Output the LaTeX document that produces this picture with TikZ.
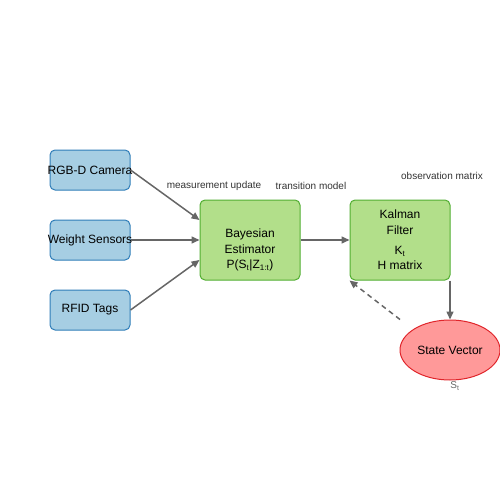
\documentclass[tikz,border=0pt]{standalone}
\usepackage{fontspec}
\setmainfont{Liberation Sans}
\usepackage{tikz}
\usetikzlibrary{arrows.meta,shapes.geometric}
\definecolor{sensorfill}{HTML}{A6CEE3}
\definecolor{sensorline}{HTML}{2F7DB8}
\definecolor{stagefill}{HTML}{B2DF8A}
\definecolor{stageline}{HTML}{52AE32}
\definecolor{statefill}{HTML}{FF9999}
\definecolor{stateline}{HTML}{E0252B}
\definecolor{flowgray}{HTML}{666666}
\definecolor{lblgray}{HTML}{333333}
\tikzset{>/.tip={Triangle[length=8pt,width=7pt]}}
\newcommand{\wide}[1]{\makebox[0pt]{#1}}

\begin{document}
\begin{tikzpicture}[x=1pt,y=-1pt,
  sensor/.style={draw=sensorline,fill=sensorfill,rounded corners=5pt,line width=1pt,
    minimum width=80pt,minimum height=40pt,inner sep=0pt,font=\fontsize{12}{15}\selectfont},
  stage/.style={draw=stageline,fill=stagefill,rounded corners=5pt,line width=1pt,
    minimum width=100pt,minimum height=80pt,inner sep=0pt,align=center,
    font=\fontsize{12}{15.5}\selectfont},
  state/.style={ellipse,draw=stateline,fill=statefill,line width=1pt,
    minimum width=100pt,minimum height=60pt,inner sep=0pt,font=\fontsize{12}{15}\selectfont},
  flow/.style={->,draw=flowgray,line width=1.5pt},
  lbl/.style={text=lblgray,font=\fontsize{10}{12}\selectfont,inner sep=0pt}]
\useasboundingbox (0,0) rectangle (500,500);

\node[sensor] (camera) at (90,170) {\wide{RGB-D Camera}};
\node[sensor] (weight) at (90,240) {\wide{Weight Sensors}};
\node[sensor] (rfid) at (90,310) {RFID Tags};

\node[stage] (bayes) at (250,240) {};
\node[align=center,font=\fontsize{12}{15.5}\selectfont] (bayes-txt) at (250,250)
     {Bayesian\\Estimator\\P(S\textsubscript{t}|Z\textsubscript{1:t})};
\node[stage] (kalman) at (400,240)
     {Kalman\\Filter\\[4.5pt]K\textsubscript{t}\\H matrix};
\node[state] (state) at (450,350) {State Vector};
\node[lbl,text=flowgray] (state-lbl) at (455,386) {S\textsubscript{t}};

\node[lbl] (meas-lbl) at (214,186) {measurement update};
\node[lbl] (trans-lbl) at (311,186) {transition model};
\node[lbl] (obs-lbl) at (442,176) {observation matrix};

\draw[flow] (camera.east) -- ([yshift=20pt]bayes.west);
\draw[flow] (weight.east) -- (bayes.west);
\draw[flow] (rfid.east) -- ([yshift=-20pt]bayes.west);
\draw[flow] (bayes.east) -- (kalman.west);
\draw[flow] (kalman.south -| state.north) -- (state.north);
\draw[flow,dashed,dash pattern=on 5pt off 4pt] ([xshift=-50pt]state.north) -- (kalman.south west);
\end{tikzpicture}
\end{document}
